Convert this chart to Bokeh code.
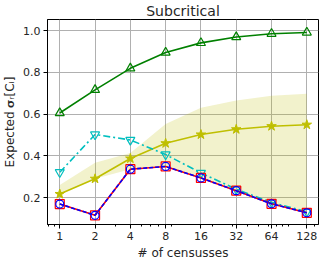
from bokeh.plotting import figure
from bokeh.models import FixedTicker, Range1d, PrintfTickFormatter
from bokeh.embed import file_html
from bokeh.resources import INLINE

censuses = [1, 2, 4, 8, 16, 32, 64, 128]
green_vals = [0.605, 0.716, 0.819, 0.895, 0.941, 0.969, 0.985, 0.991]
olive_vals = [0.217, 0.290, 0.387, 0.460, 0.502, 0.527, 0.542, 0.549]
band_low = [0.217, 0.290, 0.336, 0.349, 0.294, 0.233, 0.170, 0.127]
band_high = [0.260, 0.367, 0.413, 0.553, 0.630, 0.665, 0.688, 0.697]
cyan_vals = [0.321, 0.502, 0.476, 0.406, 0.318, 0.240, 0.177, 0.132]
red_vals = [0.169, 0.115, 0.336, 0.349, 0.294, 0.233, 0.170, 0.127]
blue_vals = [0.169, 0.115, 0.336, 0.349, 0.294, 0.233, 0.170, 0.127]
x_ticks = [1, 2, 4, 8, 16, 32, 64, 128]
x_minor = [0.8, 0.9, 3, 5, 6, 7, 9, 20, 30, 40, 50, 60, 70, 80, 90, 150]
y_ticks = [0.2, 0.4, 0.6, 0.8, 1.0]

FONT = "DejaVu Sans"

p = figure(frame_width=271, frame_height=205, x_axis_type="log",
           x_range=Range1d(0.786, 161), y_range=Range1d(0.071, 1.053),
           output_backend="svg", toolbar_location=None, title="Subcritical")
p.min_border_left = 0
p.min_border_right = 2
p.min_border_top = 0
p.min_border_bottom = 0

p.title.align = "center"
p.title.text_font = FONT
p.title.text_font_size = "14px"
p.title.text_font_style = "normal"
p.title.text_color = "#262626"
p.title.standoff = 1

p.outline_line_color = "black"
p.outline_line_width = 1
p.background_fill_color = "white"
p.border_fill_color = "white"

p.xaxis.ticker = FixedTicker(ticks=x_ticks, minor_ticks=x_minor)
p.xaxis.formatter = PrintfTickFormatter(format="%d")
p.yaxis.ticker = FixedTicker(ticks=y_ticks)
p.yaxis.formatter = PrintfTickFormatter(format="%.1f")

for ax in (p.xaxis, p.yaxis):
    ax.axis_line_color = "black"
    ax.major_tick_line_color = "black"
    ax.major_tick_out = 4
    ax.major_tick_in = 0
    ax.minor_tick_out = 2
    ax.minor_tick_in = 0
    ax.major_label_text_font = FONT
    ax.major_label_text_font_size = "11px"
    ax.major_label_text_color = "#262626"
    ax.axis_label_text_font = FONT
    ax.axis_label_text_font_size = "12px"
    ax.axis_label_text_font_style = "normal"
    ax.axis_label_text_color = "#262626"
    ax.major_label_standoff = 3
    ax.axis_label_standoff = 3
p.yaxis.minor_tick_line_color = None
p.xaxis.axis_label = "# of censusses"
p.yaxis.axis_label = "Expected \U0001D6D4\u1D63[C\u1D62]"

p.grid.grid_line_color = "#b0b0b0"
p.grid.grid_line_width = 1
p.xgrid.ticker = FixedTicker(ticks=x_ticks)
p.ygrid.ticker = FixedTicker(ticks=y_ticks)

# band
p.varea(x=censuses, y1=band_low, y2=band_high, fill_color="#bfbf00", fill_alpha=0.2)

# olive stars
p.line(censuses, olive_vals, line_color="#bfbf00", line_width=1.6)
p.scatter(censuses, olive_vals, marker="star", size=10, fill_color="#bfbf00",
          line_color="#bfbf00")

# green triangles
p.line(censuses, green_vals, line_color="green", line_width=1.6)
p.scatter(censuses, green_vals, marker="triangle", size=9, fill_color=None,
          line_color="green", line_width=1.2)

# cyan dash-dot
p.line(censuses, cyan_vals, line_color="#00bfbf", line_width=1.6, line_dash="7 3 2 3")
p.scatter(censuses, cyan_vals, marker="inverted_triangle", size=9, fill_color=None,
          line_color="#00bfbf", line_width=1.2)

# red solid
p.line(censuses, red_vals, line_color="red", line_width=1.6)
p.scatter(censuses, red_vals, marker="square", size=9, fill_color=None,
          line_color="red", line_width=1.2)

# blue dashed
p.line(censuses, blue_vals, line_color="blue", line_width=1.6, line_dash="4 2")
p.scatter(censuses, blue_vals, marker="circle", size=8, fill_color=None,
          line_color="blue", line_width=1.2)

open("out.html", "w").write(file_html(p, INLINE))
